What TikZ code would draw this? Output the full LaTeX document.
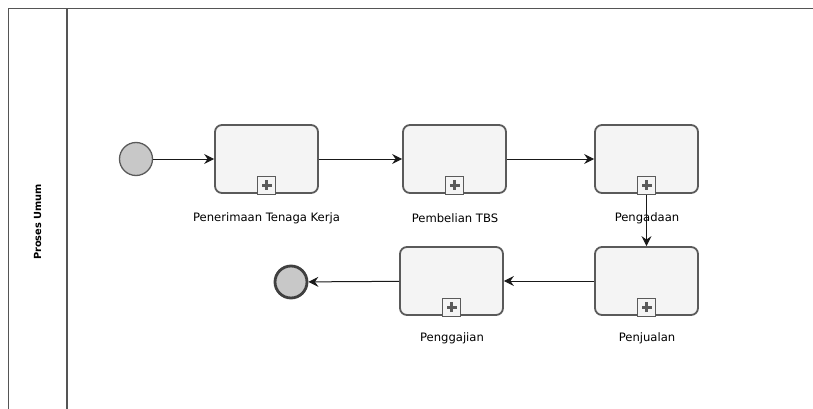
\documentclass[tikz,border=0pt]{standalone}
\usepackage{fontspec}
\setmainfont{DejaVu Sans}
\usetikzlibrary{arrows.meta}
\definecolor{taskfill}{HTML}{F4F4F4}
\definecolor{taskline}{HTML}{5A5A5A}
\definecolor{evfill}{HTML}{C8C8C8}
\definecolor{poolline}{HTML}{555555}
\begin{document}
\begin{tikzpicture}[x=1pt,y=-1pt,
  task/.style={draw=taskline,fill=taskfill,line width=1.8pt,rounded corners=7pt,minimum width=103pt,minimum height=68pt,inner sep=0pt},
  marker/.style={draw=taskline,fill=taskfill,line width=1.3pt,minimum size=18pt,inner sep=0pt,anchor=south},
  startev/.style={circle,draw=taskline,fill=evfill,line width=1.3pt,minimum size=33pt,inner sep=0pt},
  endev/.style={circle,draw=black!75,fill=evfill,line width=2.8pt,minimum size=32pt,inner sep=0pt},
  lbl/.style={font=\fontsize{11.6}{13}\selectfont,inner sep=1pt},
  flow/.style={draw=black!90,line width=1pt,-{Stealth[length=10pt,width=10pt,inset=3.5pt]}}]
\useasboundingbox (0,0) rectangle (813,409);
% pool
\draw[poolline,line width=1.2pt] (8.5,409) -- (8.5,8.5) -- (813,8.5);
\draw[poolline,line width=1.2pt] (67,8.5) -- (67,409);
\node[rotate=90,font=\bfseries\fontsize{9.8}{11}\selectfont] (pool) at (37.5,222) {Proses Umum};
% events and tasks
\node[startev] (s) at (136,159) {};
\node[task] (t1) at (266.5,159) {};
\node[task] (t2) at (454.5,159) {};
\node[task] (t3) at (646.5,159) {};
\node[task] (t4) at (646.5,281) {};
\node[task] (t5) at (451.5,281) {};
\node[endev] (e) at (291,282) {};
% markers
\foreach \t in {t1,t2,t3,t4,t5}{
  \node[marker] (m\t) at ([yshift=-0.9pt]\t.south) {};
  \fill[taskline] ([xshift=-5pt,yshift=-1.5pt]m\t.center) rectangle ([xshift=5pt,yshift=1.5pt]m\t.center);
  \fill[taskline] ([xshift=-1.5pt,yshift=-5pt]m\t.center) rectangle ([xshift=1.5pt,yshift=5pt]m\t.center);
}
% labels
\node[lbl] (l1) at (266.5,218) {Penerimaan Tenaga Kerja};
\node[lbl] (l2) at (455,218) {Pembelian TBS};
\node[lbl] (l3) at (647,218) {Pengadaan};
\node[lbl] (l5) at (452,338) {Penggajian};
\node[lbl] (l4) at (647,338) {Penjualan};
% flows
\draw[flow] (s) -- (t1);
\draw[flow] (t1) -- (t2);
\draw[flow] (t2) -- (t3);
\draw[flow] (mt3.south) -- (t4.north);
\draw[flow] (t4) -- (t5);
\draw[flow] (t5) -- (e);
\end{tikzpicture}
\end{document}
